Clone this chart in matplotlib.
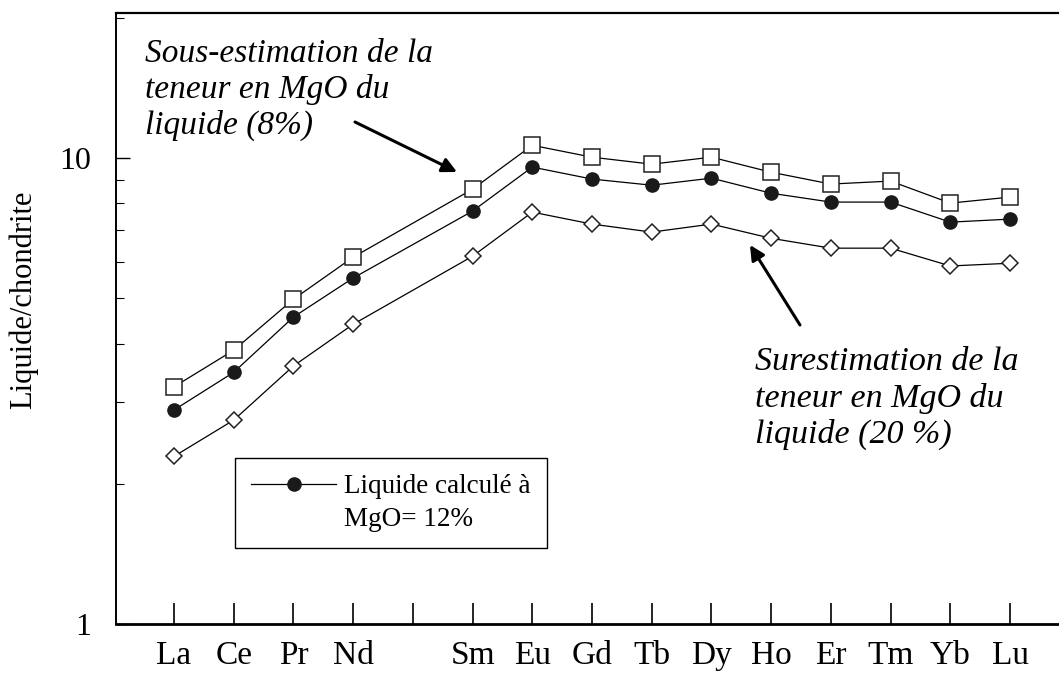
import matplotlib.pyplot as plt

plt.rcParams['font.family'] = ['Liberation Serif', 'DejaVu Serif']

# REE order (Pm slot left empty on the axis)
ree_order = ['La', 'Ce', 'Pr', 'Nd', 'Pm', 'Sm', 'Eu', 'Gd', 'Tb', 'Dy', 'Ho', 'Er', 'Tm', 'Yb', 'Lu']
elements = ['La', 'Ce', 'Pr', 'Nd', 'Sm', 'Eu', 'Gd', 'Tb', 'Dy', 'Ho', 'Er', 'Tm', 'Yb', 'Lu']

# normalised concentrations (liquide/chondrite)
mgo_8 = [3.23, 3.87, 4.98, 6.13, 8.58, 10.66, 10.05, 9.71, 10.05, 9.33, 8.80, 8.93, 8.01, 8.25]
mgo_12 = [2.88, 3.47, 4.56, 5.53, 7.70, 9.57, 9.02, 8.75, 9.06, 8.41, 8.05, 8.05, 7.29, 7.40]
mgo_20 = [2.29, 2.74, 3.58, 4.40, 6.16, 7.66, 7.22, 6.94, 7.22, 6.73, 6.41, 6.41, 5.87, 5.95]

tick_labels = [e if e != 'Pm' else '' for e in ree_order]
x = [ree_order.index(e) + 1 for e in elements]

fig = plt.figure(figsize=(10.59, 6.76), dpi=100)
ax = fig.add_axes([0.1095, 0.0769, 0.8905, 0.9039])

ax.plot(x, mgo_8, '-', color='black', lw=0.9, marker='s', ms=11.5,
        mfc='white', mec='#222222', mew=1.1)
ax.plot(x, mgo_20, '-', color='black', lw=0.9, marker='D', ms=8,
        mfc='white', mec='#222222', mew=1.1)
ax.plot(x, mgo_12, '-', color='black', lw=0.9, marker='o', ms=9.5,
        mfc='#1a1a1a', mec='#1a1a1a', label='Liquide calculé à')
ax.plot([], [], ls='none', label='MgO= 12%')

ax.set_yscale('log')
ax.set_ylim(1, 20.5)
ax.set_xlim(0.0285, 15.82)

ax.set_xticks(range(1, len(ree_order) + 1))
ax.set_xticklabels(tick_labels, fontsize=24)
ax.set_yticks([1, 10])
ax.set_yticklabels(['1', '10'], fontsize=23)
ax.tick_params(axis='x', direction='in', length=15, width=1.2, pad=12)
ax.tick_params(axis='y', which='major', direction='in', length=10, width=1, pad=18)
ax.tick_params(axis='y', which='minor', direction='in', length=6, width=0.8)
ax.set_ylabel('Liquide/chondrite', fontsize=22)
ax.yaxis.set_label_coords(-0.083, 0.53)

ax.spines['right'].set_visible(False)
ax.spines['bottom'].set_linewidth(2)
ax.spines['left'].set_linewidth(1.4)
ax.spines['top'].set_linewidth(1.6)

leg = ax.legend(loc='upper left', bbox_to_anchor=(0.126, 0.272), fontsize=19.5,
                frameon=True, fancybox=False, edgecolor='black', framealpha=1,
                handlelength=3.15, handletextpad=0.29, labelspacing=0.29,
                borderpad=0.6, borderaxespad=0)
leg.get_frame().set_linewidth(1.0)

ax.text(145, 676 - 38, 'Sous-estimation de la\nteneur en MgO du\nliquide (8%)',
        transform=None, fontsize=24, style='italic', va='top', ha='left',
        linespacing=1.22)
ax.annotate('', xy=(457, 676 - 172), xycoords='figure pixels',
            xytext=(355, 676 - 122), textcoords='figure pixels',
            arrowprops=dict(arrowstyle='-|>', color='black', lw=2.2,
                            mutation_scale=22, shrinkA=0, shrinkB=0))
ax.text(755, 676 - 347, 'Surestimation de la\nteneur en MgO du\nliquide (20 %)',
        transform=None, fontsize=24.5, style='italic', va='top', ha='left',
        linespacing=1.22)
ax.annotate('', xy=(750, 676 - 245), xycoords='figure pixels',
            xytext=(800, 676 - 325), textcoords='figure pixels',
            arrowprops=dict(arrowstyle='-|>', color='black', lw=2.2,
                            mutation_scale=22, shrinkA=0, shrinkB=0))

fig.savefig('out.png', dpi=100)
